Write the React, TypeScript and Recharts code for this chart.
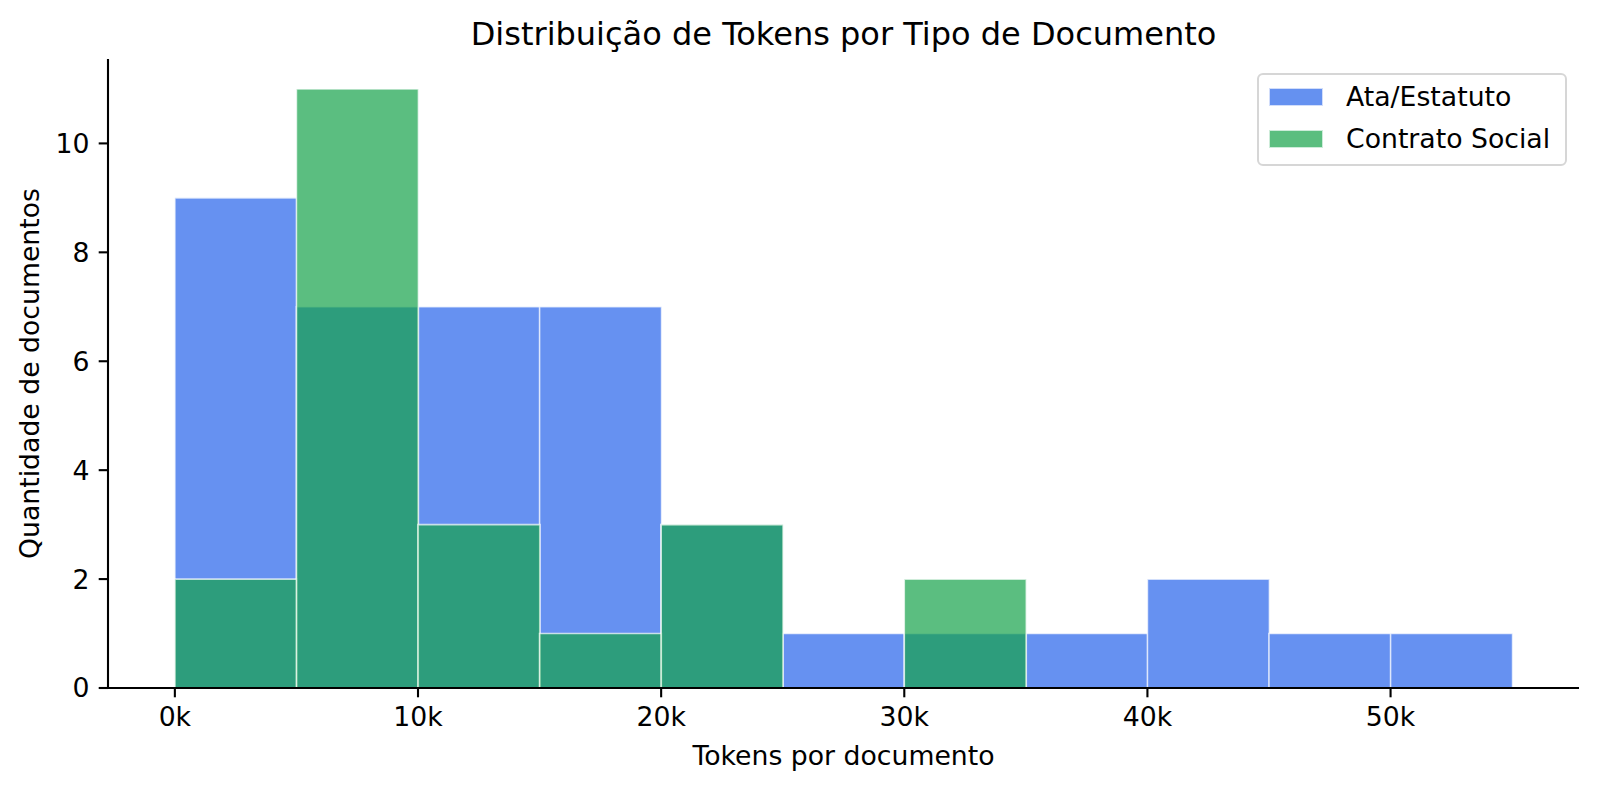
import { BarChart, Bar, XAxis, YAxis, Legend, Label } from 'recharts';

// histogram bins (5k tokens wide), counts
const BIN_STARTS = [0, 5000, 10000, 15000, 20000, 25000, 30000, 35000, 40000, 45000, 50000];
const ATA_ESTATUTO = [9, 7, 7, 7, 3, 1, 1, 1, 2, 1, 1];
const CONTRATO_SOCIAL = [2, 11, 3, 1, 3, 0, 2, 0, 0, 0, 0];

const X_TICKS = [0, 10000, 20000, 30000, 40000, 50000];
const Y_TICKS = [0, 2, 4, 6, 8, 10];
const X_DOMAIN: [number, number] = [-2750, 57750];
const Y_DOMAIN: [number, number] = [0, 11.55];

const TITLE = 'Distribuição de Tokens por Tipo de Documento';
const X_LABEL = 'Tokens por documento';
const Y_LABEL = 'Quantidade de documentos';

const BLUE = '#2563eb';
const GREEN = '#16a34a';
const ALPHA = 0.7;

const W = 1597;
const H = 790;
const MARGIN = { top: 59, right: 18, bottom: 52, left: 48 };
const Y_AXIS_W = 60;
const X_AXIS_H = 50;
const PLOT_W = W - MARGIN.left - Y_AXIS_W - MARGIN.right;
// matplotlib-style 5% side margin, so the bins line up with the numeric axis
const BIN_PAD = (PLOT_W * (0 - X_DOMAIN[0])) / (X_DOMAIN[1] - X_DOMAIN[0]);

const FONT = '"DejaVu Sans", sans-serif';
const FS = 26.7;

const data = BIN_STARTS.map((start, i) => ({
  start,
  ata: ATA_ESTATUTO[i],
  contrato: CONTRATO_SOCIAL[i],
}));

const axisStroke = { stroke: '#000', strokeWidth: 2.1 };

function HistLegend({ payload }: any) {
  return (
    <div
      style={{
        position: 'relative',
        boxSizing: 'border-box',
        width: 310,
        height: 93,
        border: '2px solid #d6d6d6',
        borderRadius: 6,
        background: 'rgba(255,255,255,0.8)',
        fontFamily: FONT,
        fontSize: FS,
        color: '#000',
      }}
    >
      {(payload || []).map((entry: any, i: number) => (
        <div key={entry.value} style={{ position: 'absolute', left: 10, top: 13 + i * 42, height: 20 }}>
          <div
            style={{
              position: 'absolute',
              left: 0,
              top: 0,
              width: 54,
              height: 18,
              boxSizing: 'border-box',
              background: entry.color,
              opacity: ALPHA,
              border: '1.5px solid rgba(255,255,255,0.7)',
            }}
          />
          <span
            style={{
              position: 'absolute',
              left: 77,
              top: -4,
              lineHeight: 1,
              whiteSpace: 'nowrap',
            }}
          >
            {entry.value}
          </span>
        </div>
      ))}
    </div>
  );
}

export default function App() {
  return (
    <div style={{ position: 'absolute', left: 0, top: 0, width: W, height: H, background: '#fff', fontFamily: FONT }}>
      <div
        style={{
          position: 'absolute',
          left: MARGIN.left + Y_AXIS_W,
          top: 18,
          width: PLOT_W,
          textAlign: 'center',
          fontSize: 32,
          lineHeight: '32px',
          color: '#000',
          whiteSpace: 'nowrap',
        }}
      >
        {TITLE}
      </div>
      <BarChart
        width={W}
        height={H}
        data={data}
        margin={MARGIN}
        barCategoryGap={0}
        barGap={0}
      >
        <XAxis
          xAxisId="tokens"
          dataKey="start"
          type="number"
          domain={X_DOMAIN}
          allowDataOverflow
          ticks={X_TICKS}
          tickFormatter={(v: number) => `${v / 1000}k`}
          height={X_AXIS_H}
          tickSize={9.3}
          tickMargin={9.3}
          axisLine={axisStroke}
          tickLine={axisStroke}
          tick={{ fill: '#000', fontSize: FS }}
        >
          <Label
            content={({ viewBox }: any) => (
              <text
                x={viewBox.x + viewBox.width / 2}
                y={viewBox.y + 77}
                textAnchor="middle"
                fontSize={FS}
                fill="#000"
              >
                {X_LABEL}
              </text>
            )}
          />
        </XAxis>
        <XAxis xAxisId="ata" dataKey="start" hide height={0} padding={{ left: BIN_PAD, right: BIN_PAD }} />
        <XAxis xAxisId="contrato" dataKey="start" hide height={0} padding={{ left: BIN_PAD, right: BIN_PAD }} />
        <YAxis
          domain={Y_DOMAIN}
          ticks={Y_TICKS}
          width={Y_AXIS_W}
          tickSize={9.3}
          tickMargin={9.3}
          axisLine={axisStroke}
          tickLine={axisStroke}
          tick={{ fill: '#000', fontSize: FS }}
        >
          <Label
            content={({ viewBox }: any) => {
              const x = viewBox.x - 9;
              const y = viewBox.y + viewBox.height / 2;
              return (
                <text x={x} y={y} transform={`rotate(-90 ${x} ${y})`} textAnchor="middle" fontSize={FS} fill="#000">
                  {Y_LABEL}
                </text>
              );
            }}
          />
        </YAxis>
        <Legend
          layout="vertical"
          align="center"
          verticalAlign="middle"
          content={<HistLegend />}
          wrapperStyle={{ left: 1257, top: 73, width: 310, height: 93 }}
        />
        <Bar
          xAxisId="ata"
          dataKey="ata"
          name="Ata/Estatuto"
          fill={BLUE}
          fillOpacity={ALPHA}
          stroke="#ffffff"
          strokeOpacity={ALPHA}
          strokeWidth={1.6}
          isAnimationActive={false}
        />
        <Bar
          xAxisId="contrato"
          dataKey="contrato"
          name="Contrato Social"
          fill={GREEN}
          fillOpacity={ALPHA}
          stroke="#ffffff"
          strokeOpacity={ALPHA}
          strokeWidth={1.6}
          isAnimationActive={false}
        />
      </BarChart>
    </div>
  );
}
